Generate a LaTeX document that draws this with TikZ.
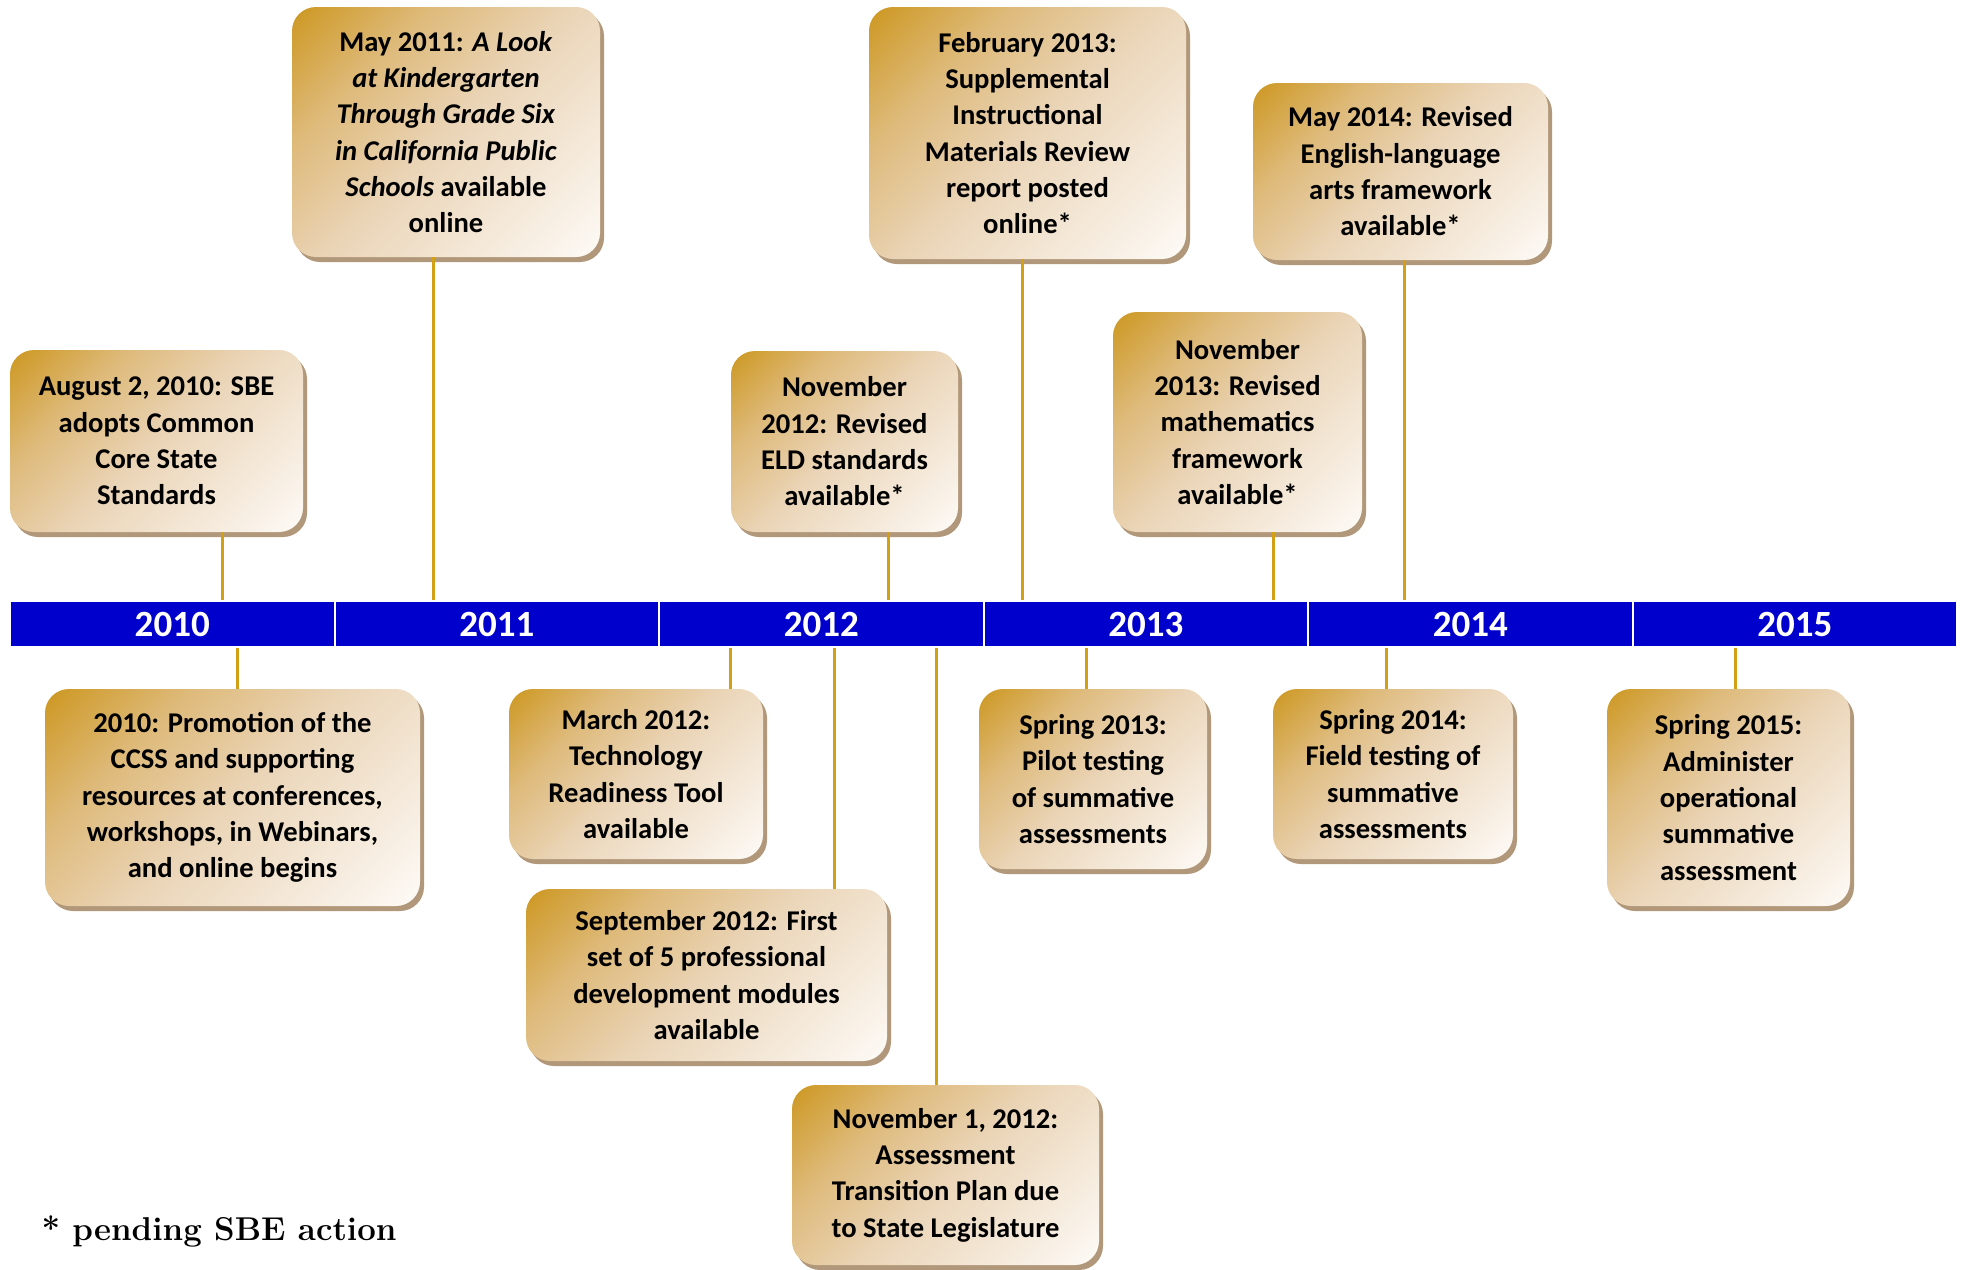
\documentclass[tikz,border=0pt]{standalone}
\usepackage{fontspec}
\newfontfamily\calibri{Carlito}
\usetikzlibrary{shadows}
\definecolor{boxgold}{RGB}{205,152,35}
\definecolor{boxdeep}{RGB}{222,186,122}
\definecolor{boxtan}{RGB}{234,212,182}
\definecolor{boxlight}{RGB}{253,250,246}
\definecolor{boxshadow}{RGB}{178,152,122}
\definecolor{linkgold}{RGB}{210,160,20}
\definecolor{barblue}{RGB}{0,0,204}
\pgfdeclareverticalshading{eventshade}{100bp}{color(0bp)=(boxlight); color(15bp)=(boxlight);
  color(50bp)=(boxtan); color(68bp)=(boxdeep); color(85bp)=(boxgold); color(100bp)=(boxgold)}

\begin{document}
\begin{tikzpicture}[x=1pt,y=-1pt,
  event/.style={rounded corners=24pt, shade, shading=eventshade, shading angle=45,
    drop shadow={shadow xshift=4pt, shadow yshift=-5pt, fill=boxshadow, opacity=1},
    align=center, inner sep=0pt, font=\calibri\bfseries\fontsize{28.6}{36.3}\selectfont},
  year/.style={fill=barblue, draw=white, line width=2pt, minimum width=324.5pt, minimum height=46pt, inner sep=0pt,
    text=white, font=\calibri\bfseries\fontsize{37}{40}\selectfont},
  link/.style={linkgold, line width=3pt}]
\useasboundingbox (0,0) rectangle (1967,1269);

% Years
\node[year] (y2010) at (172.25,624) {2010};
\node[year] (y2011) at (496.75,624) {2011};
\node[year] (y2012) at (821.25,624) {2012};
\node[year] (y2013) at (1145.75,624) {2013};
\node[year] (y2014) at (1470.25,624) {2014};
\node[year] (y2015) at (1794.75,624) {2015};

% Events above
\node[event, minimum width=293pt, minimum height=182pt] (aug10) at (156.5,441) {August 2, 2010: SBE\\adopts Common\\Core State\\Standards};
\node[event, minimum width=308pt, minimum height=250pt] (may11) at (446,132) {May 2011: \textit{A Look}\\\textit{at Kindergarten}\\\textit{Through Grade Six}\\\textit{in California Public}\\\textit{Schools} available\\online};
\node[event, minimum width=227pt, minimum height=181pt] (nov12) at (844.5,441.5) {November\\2012: Revised\\ELD standards\\available*};
\node[event, minimum width=317pt, minimum height=252pt] (feb13) at (1027.5,133) {February 2013:\\Supplemental\\Instructional\\Materials Review\\report posted\\online*};
\node[event, minimum width=249pt, minimum height=220pt] (nov13) at (1237.5,422) {November\\2013: Revised\\mathematics\\framework\\available*};
\node[event, minimum width=295pt, minimum height=177pt] (may14) at (1400.5,171.5) {May 2014: Revised\\English-language\\arts framework\\available*};

% Events below
\node[event, minimum width=375pt, minimum height=217pt] (promo) at (232.5,797.5) {2010: Promotion of the\\CCSS and supporting\\resources at conferences,\\workshops, in Webinars,\\and online begins};
\node[event, minimum width=254pt, minimum height=170pt] (mar12) at (636,774) {March 2012:\\Technology\\Readiness Tool\\available};
\node[event, minimum width=361pt, minimum height=172pt] (sep12) at (706.5,975) {September 2012: First\\set of 5 professional\\development modules\\available};
\node[event, minimum width=307pt, minimum height=180pt] (nov1) at (945.5,1175) {November 1, 2012:\\Assessment\\Transition Plan due\\to State Legislature};
\node[event, minimum width=228pt, minimum height=180pt] (spr13) at (1093,779) {Spring 2013:\\Pilot testing\\of summative\\assessments};
\node[event, minimum width=240pt, minimum height=170pt] (spr14) at (1393,774) {Spring 2014:\\Field testing of\\summative\\assessments};
\node[event, minimum width=243pt, minimum height=217pt] (spr15) at (1728.5,797.5) {Spring 2015:\\Administer\\operational\\summative\\assessment};

% Links
\coordinate (aug10-x) at (222,0);
\coordinate (may11-x) at (433,0);
\coordinate (nov12-x) at (888,0);
\coordinate (feb13-x) at (1022,0);
\coordinate (nov13-x) at (1273,0);
\coordinate (may14-x) at (1404,0);
\coordinate (promo-x) at (237,0);
\coordinate (mar12-x) at (730,0);
\coordinate (sep12-x) at (834,0);
\coordinate (nov1-x) at (936,0);
\coordinate (spr13-x) at (1086,0);
\coordinate (spr14-x) at (1386,0);
\coordinate (spr15-x) at (1735,0);
\draw[link] (aug10-x |- aug10.south) -- (aug10-x |- y2010.north);
\draw[link] (may11-x |- may11.south) -- (may11-x |- y2011.north);
\draw[link] (nov12-x |- nov12.south) -- (nov12-x |- y2012.north);
\draw[link] (feb13-x |- feb13.south) -- (feb13-x |- y2013.north);
\draw[link] (nov13-x |- nov13.south) -- (nov13-x |- y2013.north);
\draw[link] (may14-x |- may14.south) -- (may14-x |- y2014.north);
\draw[link] (promo-x |- y2010.south) -- (promo-x |- promo.north);
\draw[link] (mar12-x |- y2012.south) -- (mar12-x |- mar12.north);
\draw[link] (sep12-x |- y2012.south) -- (sep12-x |- sep12.north);
\draw[link] (nov1-x |- y2012.south) -- (nov1-x |- nov1.north);
\draw[link] (spr13-x |- y2013.south) -- (spr13-x |- spr13.north);
\draw[link] (spr14-x |- y2014.south) -- (spr14-x |- spr14.north);
\draw[link] (spr15-x |- y2015.south) -- (spr15-x |- spr15.north);

% Note
\node[anchor=west, font=\bfseries\fontsize{33}{38}\selectfont] (note) at (38,1231) {* pending SBE action};
\end{tikzpicture}
\end{document}
